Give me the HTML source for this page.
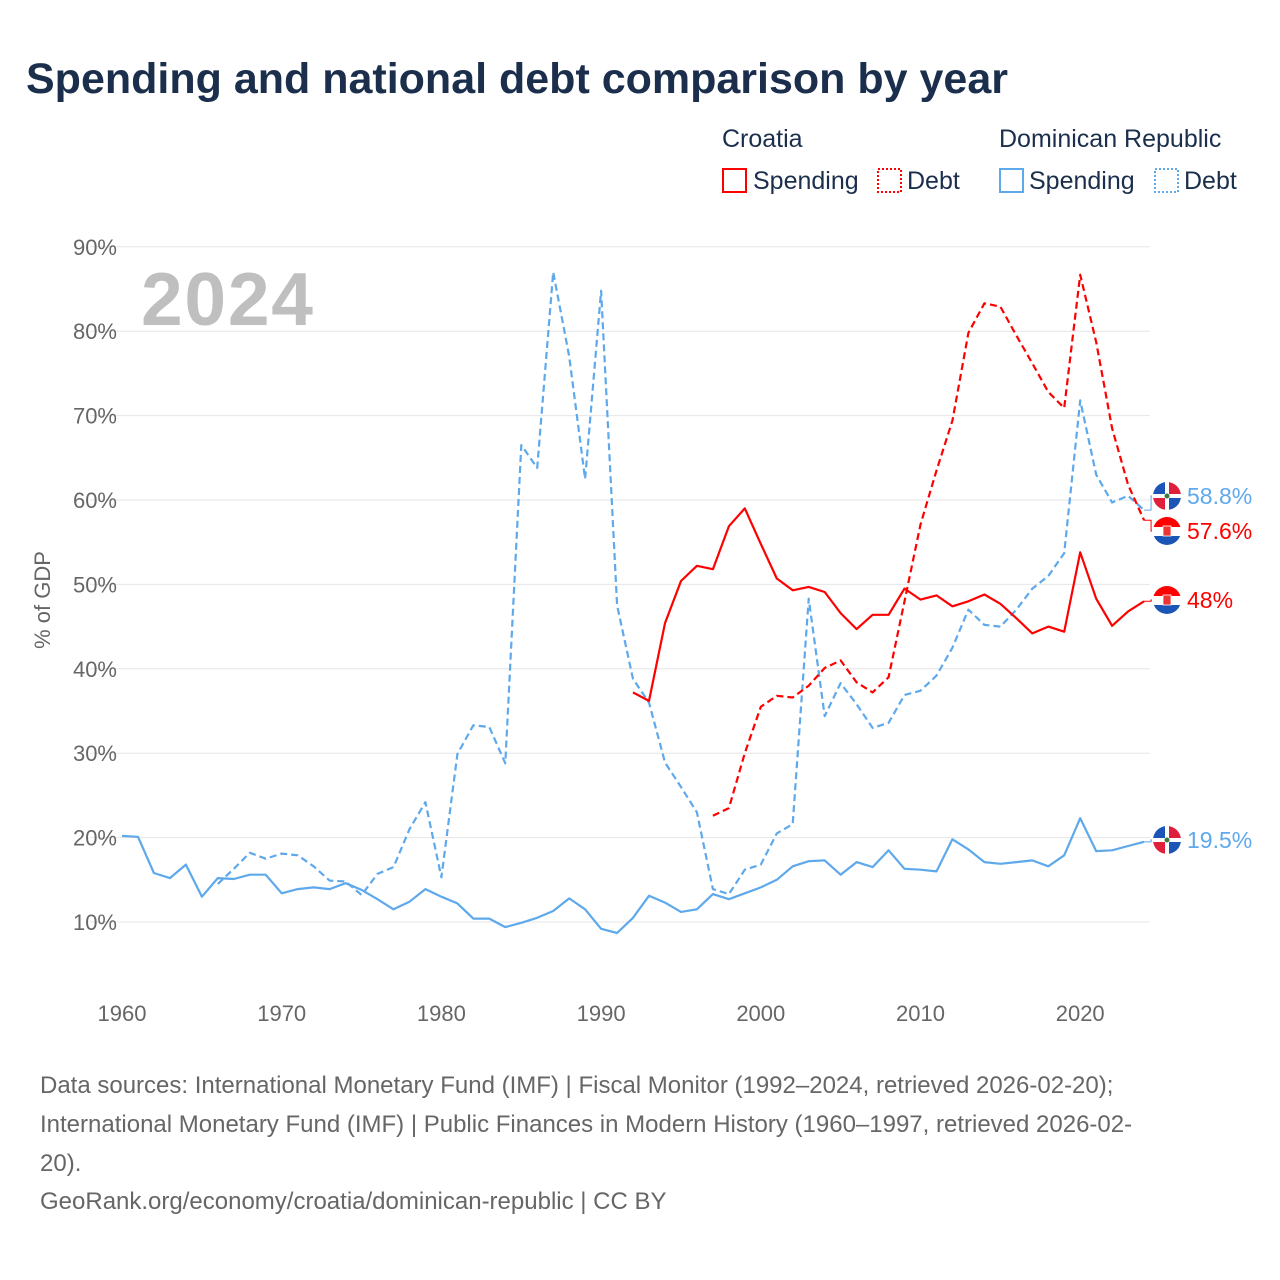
<!DOCTYPE html>
<html><head><meta charset="utf-8"><style>
body{margin:0;background:#fff;font-family:"Liberation Sans",sans-serif}
#wrap{position:relative;width:1280px;height:1280px;overflow:hidden}
</style></head><body>
<div id="wrap">
<svg id="chart" width="1280" height="1280" xmlns="http://www.w3.org/2000/svg">
<text x="26" y="93" font-size="43" font-weight="bold" fill="#1b2f4d">Spending and national debt comparison by year</text>
<g font-size="25" fill="#1b2f4d">
<text x="722" y="147">Croatia</text>
<text x="999" y="147">Dominican Republic</text>
<g><rect x="723" y="169" width="23" height="23" fill="none" stroke="#ff0000" stroke-width="2"/><text x="753" y="189">Spending</text></g>
<g><rect x="878" y="169" width="23" height="23" fill="none" stroke="#ff0000" stroke-width="2" stroke-dasharray="2 2"/><text x="907" y="189">Debt</text></g>
<g><rect x="1000" y="169" width="23" height="23" fill="none" stroke="#5ea8ec" stroke-width="2"/><text x="1029" y="189">Spending</text></g>
<g><rect x="1155" y="169" width="23" height="23" fill="none" stroke="#5ea8ec" stroke-width="2" stroke-dasharray="2 2"/><text x="1184" y="189">Debt</text></g>
</g>
<text x="141" y="325" font-size="75" font-weight="bold" fill="#bfbfbf" textLength="172">2024</text>
<text transform="translate(50,600) rotate(-90)" text-anchor="middle" font-size="22" fill="#666">% of GDP</text>
<defs><clipPath id="fc"><circle cx="0" cy="0" r="14"/></clipPath></defs>
<g id="grid"></g><g id="series"></g><g id="labels"></g>
<g font-size="24" fill="#666">
<text x="40" y="1093">Data sources: International Monetary Fund (IMF) | Fiscal Monitor (1992–2024, retrieved 2026-02-20);</text>
<text x="40" y="1132">International Monetary Fund (IMF) | Public Finances in Modern History (1960–1997, retrieved 2026-02-</text>
<text x="40" y="1171">20).</text>
<text x="40" y="1209">GeoRank.org/economy/croatia/dominican-republic | CC BY</text>
</g>
</svg></div>
<script>
const yTicks=[10,20,30,40,50,60,70,80,90];
const xTicks=[1960,1970,1980,1990,2000,2010,2020];
const drSpendStart=1960;
const drSpending=[20.2,20.1,15.8,15.2,16.8,13.0,15.2,15.1,15.6,15.6,13.4,13.9,14.1,13.9,14.6,13.8,12.7,11.5,12.4,13.9,13.0,12.2,10.4,10.4,9.4,9.9,10.5,11.3,12.8,11.5,9.2,8.7,10.5,13.1,12.3,11.2,11.5,13.3,12.7,13.4,14.1,15.0,16.6,17.2,17.3,15.6,17.1,16.5,18.5,16.3,16.2,16.0,19.8,18.6,17.1,16.9,17.1,17.3,16.6,17.9,22.3,18.4,18.5,19.0,19.5];
const drDebtStart=1966;
const drDebt=[14.5,16.3,18.2,17.5,18.1,17.9,16.6,14.9,14.8,13.2,15.7,16.5,21.0,24.2,15.3,29.9,33.3,33.1,28.8,66.5,63.8,87.0,77.0,62.5,84.8,47.5,38.8,36.0,28.9,26.0,23.0,13.9,13.3,16.2,16.8,20.5,21.6,48.3,34.4,38.3,35.8,33.0,33.6,36.9,37.4,39.2,42.5,47.0,45.2,45.0,47.0,49.5,51.0,53.7,71.8,63.0,59.7,60.5,58.8];
const hrSpendStart=1992;
const hrSpending=[37.2,36.2,45.4,50.4,52.2,51.8,56.9,59.0,54.8,50.7,49.3,49.7,49.1,46.6,44.7,46.4,46.4,49.5,48.2,48.7,47.4,48.0,48.8,47.7,46.0,44.2,45.0,44.4,53.8,48.3,45.1,46.8,48.0];
const hrDebtStart=1997;
const hrDebt=[22.6,23.5,30.0,35.5,36.8,36.6,38.0,40.1,41.0,38.4,37.2,39.0,48.0,57.1,63.5,69.4,79.8,83.3,82.9,79.5,76.2,72.8,70.9,86.7,78.7,68.5,61.8,57.6];

const NS='http://www.w3.org/2000/svg';
const X=yr=>122+(yr-1960)*15.97;
const Y=v=>922-(v-10)*8.44;
function mk(tag,attrs,parent){const e=document.createElementNS(NS,tag);for(const k in attrs)e.setAttribute(k,attrs[k]);parent.appendChild(e);return e;}
const grid=document.getElementById('grid');
yTicks.forEach(t=>{
  const l=mk('line',{x1:90,x2:1150,y1:Y(t),y2:Y(t),stroke:'#e6e6e6','stroke-width':1},grid);
  
  
  const tx=mk('text',{x:117,y:Y(t)+8,'text-anchor':'end','font-size':22,fill:'#666'},grid);
  tx.textContent=t+'%';
  
  
});
xTicks.forEach(t=>{
  const tx=mk('text',{x:X(t),y:1021,'text-anchor':'middle','font-size':22,fill:'#666'},grid);
  tx.textContent=t;
  
  
});
const series=document.getElementById('series');
function draw(arr,start,color,dash,name){
  const d=arr.map((v,i)=>(i?'L':'M')+X(start+i).toFixed(1)+','+Y(v).toFixed(1)).join('');
  const p=mk('path',{d:d,fill:'none',stroke:color,'stroke-width':2.2,'stroke-linejoin':'round'},series);
  if(dash)p.setAttribute('stroke-dasharray','7 4');
  
  
}
draw(drSpending,drSpendStart,'#5ea8ec',false,'line-dr-spending');
draw(drDebt,drDebtStart,'#5ea8ec',true,'line-dr-debt');
draw(hrSpending,hrSpendStart,'#ff0000',false,'line-croatia-spending');
draw(hrDebt,hrDebtStart,'#ff0000',true,'line-croatia-debt');

const labels=document.getElementById('labels');
function endLabel(v,ly,color,flag,name){
  const x0=X(2024),y0=Y(v);
  mk('path',{d:`M${x0},${y0}H${x0+7}V${ly}H1152`,fill:'none',stroke:color,'stroke-width':1},labels);
  const g=mk('g',{},labels);
  
  
  const cx=1167;
  const f=mk('g',{transform:`translate(${cx},${ly})`,'clip-path':'url(#fc)'},g);
  if(flag==='hr'){
    mk('rect',{x:-14,y:-14,width:28,height:10,fill:'#ff0000'},f);
    mk('rect',{x:-14,y:-4,width:28,height:9,fill:'#fff'},f);
    mk('rect',{x:-14,y:5,width:28,height:10,fill:'#1b55b5'},f);
    mk('rect',{x:-4,y:-5,width:8,height:10,fill:'#e33',stroke:'#fff','stroke-width':0.8},f);
  }else{
    mk('rect',{x:-14,y:-14,width:28,height:28,fill:'#fff'},f);
    mk('rect',{x:-14,y:-14,width:12,height:12,fill:'#1b55b5'},f);
    mk('rect',{x:2,y:-14,width:12,height:12,fill:'#e0203a'},f);
    mk('rect',{x:-14,y:2,width:12,height:12,fill:'#e0203a'},f);
    mk('rect',{x:2,y:2,width:12,height:12,fill:'#1b55b5'},f);
    mk('circle',{cx:0,cy:0,r:2.5,fill:'#3a7a3a'},f);
  }
  const t=mk('text',{x:1187,y:ly+8,'font-size':23,fill:color},g);
  t.textContent=(+v.toFixed(1))+'%';
}
endLabel(drDebt[drDebt.length-1],496,'#5ea8ec','dr','end-label-dr-debt');
endLabel(hrDebt[hrDebt.length-1],531,'#ff0000','hr','end-label-croatia-debt');
endLabel(hrSpending[hrSpending.length-1],600,'#ff0000','hr','end-label-croatia-spending');
endLabel(drSpending[drSpending.length-1],840,'#5ea8ec','dr','end-label-dr-spending');
</script>
</body></html>
